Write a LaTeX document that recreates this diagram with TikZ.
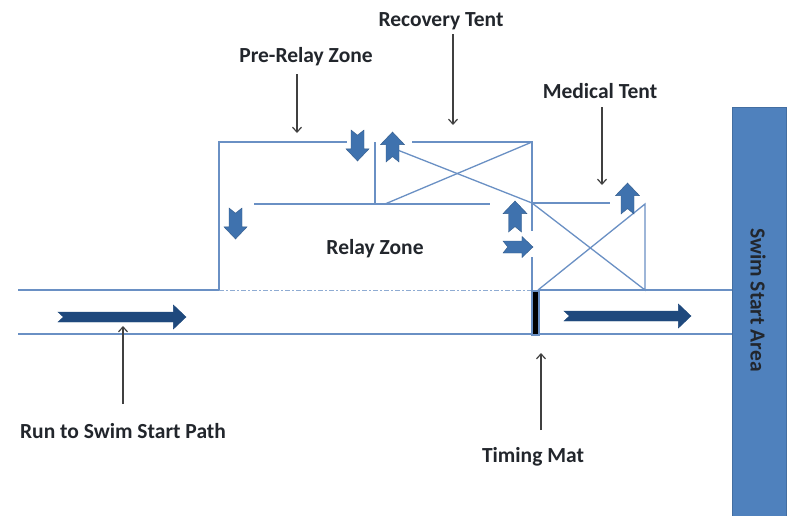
\documentclass[tikz,border=0pt]{standalone}
\usepackage{fontspec}
\setmainfont{Carlito}
\usetikzlibrary{arrows.meta}
\definecolor{routeblue}{HTML}{6A90C4}
\definecolor{areablue}{HTML}{4F81BD}
\definecolor{arrowblue}{HTML}{3F72AE}
\definecolor{darkarrow}{HTML}{1F497D}
\definecolor{labelink}{HTML}{22262C}
\tikzset{
  x=1pt,y=-1pt,
  route/.style={draw=routeblue,line width=1.3pt},
  faint/.style={draw=routeblue!75,line width=1pt,dash pattern=on 5pt off 2pt on 2pt off 2pt},
  callout/.style={draw=black!75,line width=1.2pt,-{Straight Barb[length=5pt,width=9pt]}},
  lbl/.style={font=\bfseries\fontsize{21.5}{24}\selectfont,text=labelink,inner sep=0pt},
  blk/.style={fill=arrowblue,draw=arrowblue!80!black,line width=.4pt,line join=miter},
  blkdark/.style={fill=darkarrow,draw=darkarrow,line width=.4pt},
  pics/chev/.style args={#1/#2/#3}{code={
    \path[pic actions] (0,-#3) -- ({#1-#2*1.05},-#3) -- ({#1-#2*1.05},-#2) -- (#1,0)
      -- ({#1-#2*1.05},#2) -- ({#1-#2*1.05},#3) -- (0,#3) -- ({#2*.45},0) -- cycle;
  }},
}
\begin{document}
\begin{tikzpicture}
\useasboundingbox (0,0) rectangle (792,515);
\fill[white] (0,0) rectangle (792,515);

% Coordinates of the route and tents
\coordinate (pathL1) at (18,290);
\coordinate (zoneBL) at (219,290);
\coordinate (zoneTL) at (219,142);
\coordinate (zoneTR) at (347,142);
\coordinate (recTL) at (412,142);
\coordinate (recTR) at (532,142);
\coordinate (recA) at (375,142);
\coordinate (recB) at (375,204);
\coordinate (innerL) at (254,204);
\coordinate (innerR) at (490,204);
\coordinate (recC) at (385,204);
\coordinate (recD) at (395,149);
\coordinate (midJ) at (532,203);
\coordinate (medR) at (610,203);
\coordinate (medBR) at (645,290);
\coordinate (medTR) at (645,204);
\coordinate (medBL) at (538,290);
\coordinate (gapA) at (532,231);
\coordinate (gapB) at (532,257);
\coordinate (matTop) at (532,290);
\coordinate (pathL2) at (18,334);

% Swim start area
\node[draw=areablue!85!black,fill=areablue,line width=.8pt,minimum width=54pt,minimum height=414pt,inner sep=0pt,anchor=north west] (swim) at (732,107) {};
\coordinate (pathR1) at (swim.west |- medBR);
\coordinate (pathR2) at (swim.west |- pathL2);

% Route lines
\draw[route] (pathL1) -- (zoneBL) -- (zoneTL) -- (zoneTR);
\draw[route] (recTL) -- (recTR) -- (midJ) -- (gapA);
\draw[route] (gapB) -- (matTop);
\draw[route] (recA) -- (recB);
\draw[route] (innerL) -- (innerR);
\draw[route] (recC) -- (recTR);
\draw[route] (recD) -- (midJ) -- (medBR) -- (medTR) -- (medBL);
\draw[route] (midJ) -- (medR);
\draw[route] (medBL) -- (pathR1);
\draw[route] (pathL2) -- (pathR2);
\draw[faint] (zoneBL) -- (matTop);

% Timing mat
\node[draw=routeblue,fill=black,line width=1.6pt,minimum width=7pt,minimum height=44pt,inner sep=0pt,anchor=north] (mat) at (535.5,290) {};

% Block arrows
\pic[blk,rotate=-90] at (357.5,130) {chev={31/11.5/6.5}};
\pic[blk,rotate=-90] at (235.5,208) {chev={31/11.5/6.5}};
\pic[blk,rotate=90] at (392.5,162) {chev={30/12/6.5}};
\pic[blk,rotate=90] at (515,232) {chev={31/12/6.5}};
\pic[blk,rotate=90] at (627.5,214) {chev={31/12/6.5}};
\pic[blk] at (503,247) {chev={30/10.5/6}};
\pic[blkdark] at (58,317) {chev={128/12/5}};
\pic[blkdark] at (564,316) {chev={127/12/5}};

% Labels
\node[lbl] (prerelay) at (306,57) {Pre-Relay Zone};
\node[lbl] (recovery) at (441,21.5) {Recovery Tent};
\node[lbl] (medical) at (600,91) {Medical Tent};
\node[lbl] (relay) at (375,248.5) {Relay Zone};
\node[lbl] (runpath) at (123,431) {Run to Swim Start Path};
\node[lbl] (timing) at (533,457) {Timing Mat};
\node[lbl,rotate=-90] (swimlbl) at (758,300) {Swim Start Area};

% Callouts
\coordinate (c1a) at (297,74);  \coordinate (c1b) at (297,133);
\coordinate (c2a) at (453,34);  \coordinate (c2b) at (453,125);
\coordinate (c3a) at (602,107); \coordinate (c3b) at (602,185);
\coordinate (c4a) at (123,404); \coordinate (c4b) at (123,326);
\coordinate (c5a) at (541,430); \coordinate (c5b) at (541,353);
\draw[callout] (c1a) -- (c1b);
\draw[callout] (c2a) -- (c2b);
\draw[callout] (c3a) -- (c3b);
\draw[callout] (c4a) -- (c4b);
\draw[callout] (c5a) -- (c5b);
\end{tikzpicture}
\end{document}
